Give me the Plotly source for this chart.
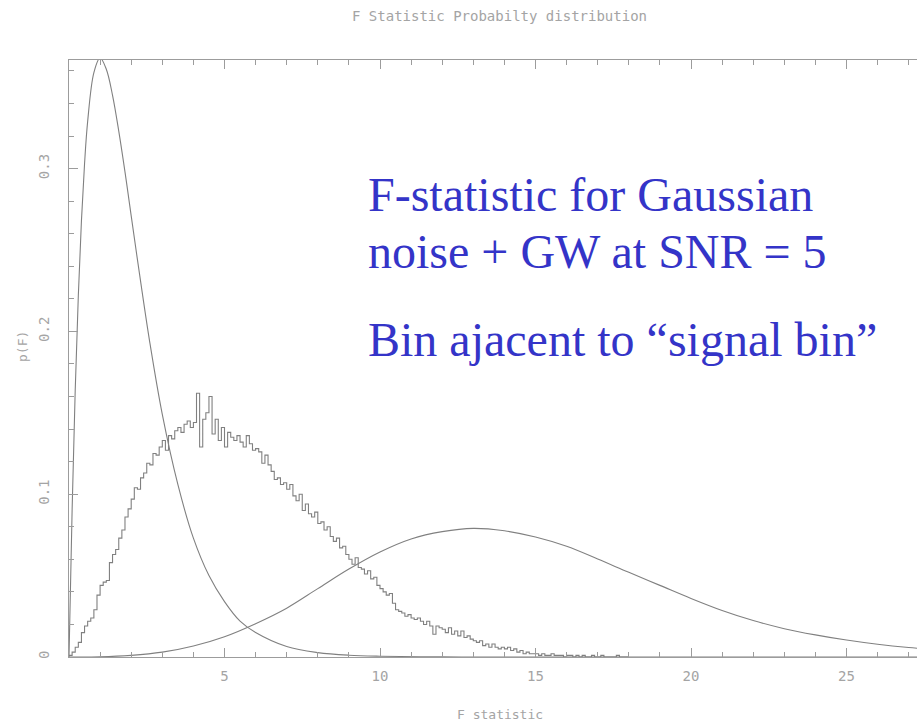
import plotly.graph_objects as go

# ---------------- data ----------------
# Histogram: bin width 0.1, left edges start at 0.0 ; values in p(F) x 1000
hist_bin_start = 0.0
hist_bin_width = 0.1
hist_counts_milli = [
    1, 3, 6, 9, 15, 19, 22, 24, 29, 38,
    44, 46, 47, 58, 63, 66, 73, 78, 86, 91,
    97, 104, 103, 110, 113, 119, 118, 125, 124, 129,
    133, 127, 136, 134, 139, 141, 138, 143, 145, 141,
    144, 162, 129, 146, 150, 160, 137, 146, 133, 141,
    129, 138, 135, 133, 136, 132, 129, 136, 131, 127,
    128, 126, 119, 124, 118, 114, 109, 110, 106, 107,
    103, 106, 99, 96, 100, 90, 94, 88, 86, 89,
    82, 83, 78, 80, 74, 71, 73, 67, 68, 63,
    60, 57, 61, 55, 54, 51, 53, 48, 49, 44,
    42, 40, 38, 39, 33, 29, 28, 27, 25, 26,
    24, 23, 24, 22, 20, 22, 19, 14, 19, 18,
    17, 15, 18, 14, 16, 13, 16, 12, 13, 11,
    10, 9, 10, 7, 8, 6, 8, 6, 5, 6,
    5, 6, 4, 5, 3, 4, 2, 3, 2, 2,
    2, 1, 2, 1, 1, 2, 1, 1, 1, 0,
    1, 1, 0, 1, 0, 1, 0, 0, 1, 0,
    0, 1, 0, 0, 0, 0, 1, 0, 0, 0,
]
hist_values = [v / 1000.0 for v in hist_counts_milli]

# Noise-only curve
noise_F = [0, 0.1, 0.2, 0.3, 0.4, 0.5, 0.6, 0.8, 1.0, 1.2, 1.4, 1.6, 1.8, 2.0,
           2.3, 2.6, 3.0, 3.5, 4.0, 4.5, 5.0, 5.5, 6.0, 7.0, 8.0, 9.0, 10.0,
           12.0, 14.0, 20.0, 27.3]
noise_p = [0, 0.090, 0.164, 0.222, 0.268, 0.303, 0.329, 0.359, 0.368, 0.361,
           0.345, 0.323, 0.298, 0.271, 0.231, 0.193, 0.149, 0.106, 0.073,
           0.050, 0.034, 0.022, 0.015, 0.0064, 0.0027, 0.0011, 0.0005,
           0.0001, 0, 0, 0]

# Signal (SNR = 5) curve
signal_F = list(range(0, 29))
signal_p = [0, 0.0001, 0.001, 0.003, 0.0068, 0.0125, 0.0205, 0.030, 0.042,
            0.054, 0.0645, 0.0725, 0.0770, 0.0790, 0.0775, 0.0737, 0.0680,
            0.0602, 0.0520, 0.0440, 0.0360, 0.0286, 0.0224, 0.0174, 0.0136,
            0.0104, 0.0078, 0.0058, 0.0043]

x_tick_vals = [5, 10, 15, 20, 25]
y_tick_vals = [0, 0.1, 0.2, 0.3]
y_tick_text = ["0", "0.1", "0.2", "0.3"]

title_text = "F Statistic Probabilty distribution"
x_title = "F statistic"
y_title = "p(F)"
note_lines = ["F-statistic for Gaussian", "noise + GW at SNR = 5",
              "Bin ajacent to \u201csignal bin\u201d"]

# ---------------- figure ----------------
W, H = 917, 722
ML, MR, MT, MB = 69, 0, 60, 65
PW, PH = W - ML - MR, H - MT - MB
X_MAX = PW / 31.1
Y_MAX = PH / 1628.0

line_col = "#808080"
axis_col = "#9c9c9c"
text_col = "#a4a4a4"
blue = "#3434c8"
mono = "DejaVu Sans Mono"

edges = [hist_bin_start + i * hist_bin_width for i in range(len(hist_values) + 1)]
hist_y = hist_values + [hist_values[-1]]

fig = go.Figure()
fig.add_trace(go.Scatter(x=edges, y=hist_y, mode="lines", line=dict(color=line_col, width=1.1, shape="hv"),
                         hoverinfo="skip", showlegend=False))
fig.add_trace(go.Scatter(x=noise_F, y=noise_p, mode="lines",
                         line=dict(color=line_col, width=1.1, shape="spline", smoothing=1.0),
                         showlegend=False))
fig.add_trace(go.Scatter(x=signal_F, y=signal_p, mode="lines",
                         line=dict(color=line_col, width=1.1, shape="spline", smoothing=1.0),
                         showlegend=False))

tick_font = dict(family=mono, size=14, color=text_col)

fig.update_xaxes(range=[0, X_MAX], showgrid=False, zeroline=False,
                 showline=True, linecolor=axis_col, linewidth=1.2, mirror="allticks",
                 ticks="inside", ticklen=9, tickwidth=1, tickcolor=axis_col,
                 tickmode="array", tickvals=x_tick_vals, tickfont=tick_font,
                 ticklabelstandoff=6,
                 minor=dict(tickmode="array", tickvals=list(range(0, 28)), ticks="inside",
                            ticklen=5, tickcolor=axis_col, showgrid=False))
fig.update_yaxes(range=[0, Y_MAX], showgrid=False, zeroline=False,
                 showline=True, linecolor=axis_col, linewidth=1.2, mirror=False,
                 ticks="inside", ticklen=9, tickwidth=1, tickcolor=axis_col,
                 tickmode="array", tickvals=y_tick_vals, ticktext=y_tick_text,
                 tickangle=-90, tickfont=tick_font, ticklabelstandoff=13,
                 minor=dict(tickmode="array", tickvals=[i * 0.02 for i in range(19)],
                            ticks="inside", ticklen=5, tickcolor=axis_col, showgrid=False))

def px_to_paper_x(px):
    return (px - ML) / PW

def py_to_paper_y(py):
    return (H - MB - py) / PH

annotations = []
note_centers = [194, 251, 339]
for txt, cy in zip(note_lines, note_centers):
    annotations.append(dict(text=txt, xref="paper", yref="paper",
                            x=px_to_paper_x(366), y=py_to_paper_y(cy),
                            xanchor="left", yanchor="middle", showarrow=False,
                            font=dict(family="Liberation Serif", size=48, color=blue)))
annotations.append(dict(text=x_title, xref="paper", yref="paper",
                        x=px_to_paper_x(500), y=py_to_paper_y(715),
                        xanchor="center", yanchor="middle", showarrow=False,
                        font=dict(family=mono, size=13, color=text_col)))
annotations.append(dict(text=y_title, xref="paper", yref="paper",
                        x=px_to_paper_x(22), y=py_to_paper_y(347),
                        xanchor="center", yanchor="middle", showarrow=False, textangle=-90,
                        font=dict(family=mono, size=13, color=text_col)))
annotations.append(dict(text=title_text, xref="paper", yref="paper",
                        x=px_to_paper_x(499), y=py_to_paper_y(16),
                        xanchor="center", yanchor="middle", showarrow=False,
                        font=dict(family=mono, size=14, color=text_col)))

fig.update_layout(width=W, height=H, margin=dict(l=ML, r=MR, t=MT, b=MB, pad=0),
                  paper_bgcolor="white", plot_bgcolor="white",
                  annotations=annotations, showlegend=False)

fig.write_html("out.html", include_plotlyjs=True, config={"displayModeBar": False})
